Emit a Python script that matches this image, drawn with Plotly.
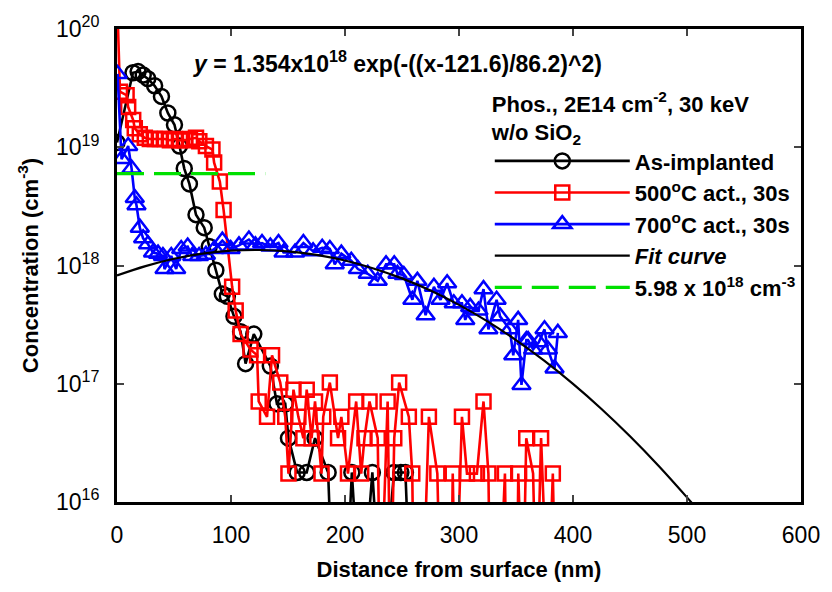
import plotly.graph_objects as go

# ---------------- data (x in nm, log10 concentration; 0 = below detection) --------------
asimp_x = [0, 14, 18.5, 23, 27, 33, 39, 44.6, 50.4, 54.8, 59, 63.5, 69.3, 76.5, 80.9, 86.7,
           92.4, 96.8, 102.6, 108.4, 112.8, 120, 134.5, 140.3, 147.6, 150.4, 158, 166.4,
           173.7, 185.2, 190, 200, 206, 214, 224, 232, 243, 249, 253, 258]
asimp_logy = [19.04, 19.63, 19.64, 19.61, 19.58, 19.52, 19.43, 19.29, 19.19, 19.01, 18.82,
              18.69, 18.43, 18.32, 18.16, 17.96, 17.76, 17.74, 17.57, 17.44, 17.17, 17.42,
              17.15, 16.83, 16.83, 16.54, 16.25, 16.25, 16.54, 16.25, 0, 0, 16.25, 0,
              16.25, 0, 16.25, 16.25, 16.25, 0]

act500_x = [0, 2.6, 8.4, 9.8, 14.2, 15.6, 20, 24.4, 28.8, 33.2, 37.6, 42, 46.4, 50.8, 55.2,
            59.6, 64, 69.3, 72.2, 78, 83.7, 85.2, 90.2, 93.5, 101, 104.1, 108.4, 117.1,
            122.9, 124.3, 131.6, 136, 143.2, 147.6, 150.4, 154.8, 159.1, 163.5, 166.4,
            170.7, 173.7, 179.4, 180.9, 186.7, 193.9, 196.8, 202.6, 209.8, 214.2, 217.1,
            221.5, 228.7, 231, 237.4, 240, 243.2, 247.5, 256, 259, 260.6, 267.8, 273.6,
            281, 284, 293, 294.5, 297, 302.6, 307, 315.7, 321.5, 325.8, 327.6, 334.9,
            340.3, 342, 350.7, 352, 356, 359, 365, 368, 372, 378, 382.3, 385]
act500_logy = [20.3, 19.47, 19.44, 19.34, 19.23, 19.16, 19.11, 19.08, 19.07, 19.07, 19.07,
               19.07, 19.06, 19.07, 19.06, 19.06, 19.07, 19.08, 19.05, 19.01, 18.98, 18.87,
               18.71, 18.47, 17.82, 17.62, 17.42, 17.29, 17.24, 16.85, 16.72, 17.24, 17.01,
               16.72, 16.24, 16.95, 16.72, 16.54, 16.95, 16.54, 16.85, 16.24, 16.72, 17.01,
               16.54, 16.72, 16.24, 16.85, 16.24, 16.54, 16.85, 16.54, 0, 16.85, 0, 16.54,
               17.01, 16.72, 16.24, 0, 0, 16.72, 16.24, 0, 0, 16.24, 0, 16.72, 16.24,
               16.24, 16.85, 16.24, 0, 0, 16.24, 0, 0, 16.24, 0, 16.54, 16.24, 0, 16.54, 0,
               16.24, 0]

act700_x = [0.5, 4, 9.8, 12.8, 15.6, 17.1, 20, 22.9, 27.2, 31.6, 36, 40.3, 41.7, 47.6,
            51.9, 56.3, 62, 66, 72, 78, 85.5, 92.4, 99.7, 107, 115.7, 121.4, 127.2, 134.5,
            141.7, 146.1, 156.2, 163.5, 172, 180, 186.7, 191, 196.8, 205.5, 211.3, 220,
            228.7, 236, 243.2, 246, 251.6, 259.1, 263.5, 270.7, 278, 283.8, 289.6, 295.4,
            302.6, 305.5, 309.8, 317.1, 321.5, 325.8, 333, 336, 344.6, 347.6, 351.9,
            354.8, 359.1, 360.6, 365, 370, 375, 378, 383.8, 386.7]
act700_logy = [19.62, 18.90, 19.01, 18.82, 18.57, 18.51, 18.32, 18.23, 18.18, 18.11, 18.10,
               18.08, 17.97, 18.08, 17.97, 18.14, 18.16, 18.08, 18.08, 18.09, 18.14, 18.21,
               18.14, 18.17, 18.22, 18.17, 18.19, 18.16, 18.19, 18.11, 18.11, 18.19, 18.12,
               18.15, 18.14, 18.01, 18.10, 18.04, 17.97, 17.93, 17.87, 18.01, 18.01, 17.93,
               17.92, 17.71, 17.87, 17.58, 17.82, 17.71, 17.85, 17.68, 17.68, 17.54, 17.65,
               17.62, 17.80, 17.46, 17.71, 17.57, 17.46, 17.24, 17.54, 16.99, 17.37, 17.37,
               17.29, 17.35, 17.46, 17.29, 17.13, 17.43]

fit_x = [0, 25, 50, 75, 100, 125, 150, 175, 200, 225, 250, 275, 300, 325, 350, 375, 400,
         425, 450, 475, 500, 510]
fit_logy = [17.916, 17.995, 18.057, 18.100, 18.125, 18.131, 18.120, 18.090, 18.042, 17.975,
            17.891, 17.788, 17.667, 17.527, 17.369, 17.193, 16.999, 16.787, 16.556, 16.307,
            16.039, 15.927]

level_x = [0, 130]
level_y = [5.98e18, 5.98e18]

names = ["As-implanted", "500<sup>o</sup>C act., 30s", "700<sup>o</sup>C act., 30s",
         "<i>Fit curve</i>", "5.98 x 10<sup>18</sup> cm<sup>-3</sup>"]

x_ticks = [0, 100, 200, 300, 400, 500, 600]
y_ticks = [1e16, 1e17, 1e18, 1e19, 1e20]
y_ticktext = ["10<sup>16</sup>", "10<sup>17</sup>", "10<sup>18</sup>", "10<sup>19</sup>",
              "10<sup>20</sup>"]


def conc(logs):
    # values of 0 mean "below detection": draw them under the axis floor
    return [10 ** v if v > 0 else 1e15 for v in logs]


FONT = "Arial, Liberation Sans, sans-serif"

fig = go.Figure()
fig.add_trace(go.Scatter(x=asimp_x, y=conc(asimp_logy), name=names[0], mode="lines+markers",
                         legendgroup="a",
                         line=dict(color="black", width=2.6),
                         marker=dict(symbol="circle-open", size=15, color="black",
                                     line=dict(width=2.5))))
fig.add_trace(go.Scatter(x=act500_x, y=conc(act500_logy), name=names[1], mode="lines+markers",
                         legendgroup="b",
                         line=dict(color="#ff0000", width=2.6),
                         marker=dict(symbol="square-open", size=14, color="#ff0000",
                                     line=dict(width=2.5))))
fig.add_trace(go.Scatter(x=act700_x, y=conc(act700_logy), name=names[2], mode="lines+markers",
                         legendgroup="c",
                         line=dict(color="#0000ff", width=2.6),
                         marker=dict(symbol="triangle-up-open", size=16, color="#0000ff",
                                     line=dict(width=2.5))))
fig.add_trace(go.Scatter(x=fit_x, y=conc(fit_logy), name=names[3], mode="lines",
                         legendgroup="d", line_shape="spline",
                         line=dict(color="black", width=2.2)))
fig.add_trace(go.Scatter(x=level_x, y=level_y, name=names[4], mode="lines",
                         legendgroup="e",
                         line=dict(color="#00e000", width=3.2, dash="27px,10px")))

fig.add_annotation(x=0.108, y=0.93, xref="paper", yref="paper", xanchor="left",
                   yanchor="middle", showarrow=False,
                   text="<b><i>y</i> = 1.354x10<sup>18</sup> exp(-((x-121.6)/86.2)^2)</b>",
                   font=dict(family=FONT, size=23, color="black"))

fig.update_layout(
    width=832, height=592,
    margin=dict(l=117, r=25, t=21, b=90),
    paper_bgcolor="white", plot_bgcolor="white",
    font=dict(family=FONT, color="black"),
    legend=dict(x=0.545, y=0.886, xanchor="left", yanchor="top",
                bgcolor="rgba(0,0,0,0)", itemwidth=135, tracegroupgap=0,
                font=dict(family=FONT, size=22, color="black", weight="bold"),
                title=dict(text="Phos., 2E14 cm<sup>-2</sup>, 30 keV<br>w/o SiO<sub>2</sub>",
                           font=dict(family=FONT, size=22, color="black", weight="bold"),
                           side="top")),
    xaxis=dict(range=[0, 600], tickvals=x_ticks, ticks="inside", ticklen=7, tickwidth=2,
               showline=True, linewidth=3, linecolor="black", mirror="ticks",
               showgrid=False, zeroline=False, ticklabelstandoff=10,
               tickfont=dict(family=FONT, size=23, color="black"),
               title=dict(text="<b>Distance from surface (nm)</b>",
                          font=dict(family=FONT, size=22, color="black"), standoff=16)),
    yaxis=dict(type="log", range=[16, 20], tickvals=y_ticks, ticktext=y_ticktext,
               ticks="inside", ticklen=7, tickwidth=2,
               showline=True, linewidth=3, linecolor="black", mirror="ticks",
               showgrid=False, zeroline=False, ticklabelstandoff=10,
               tickfont=dict(family=FONT, size=23, color="black"),
               title=dict(text="<b>Concentration (cm<sup>-3</sup>)</b>",
                          font=dict(family=FONT, size=22, color="black"), standoff=12)),
)

fig.write_html("out.html")
